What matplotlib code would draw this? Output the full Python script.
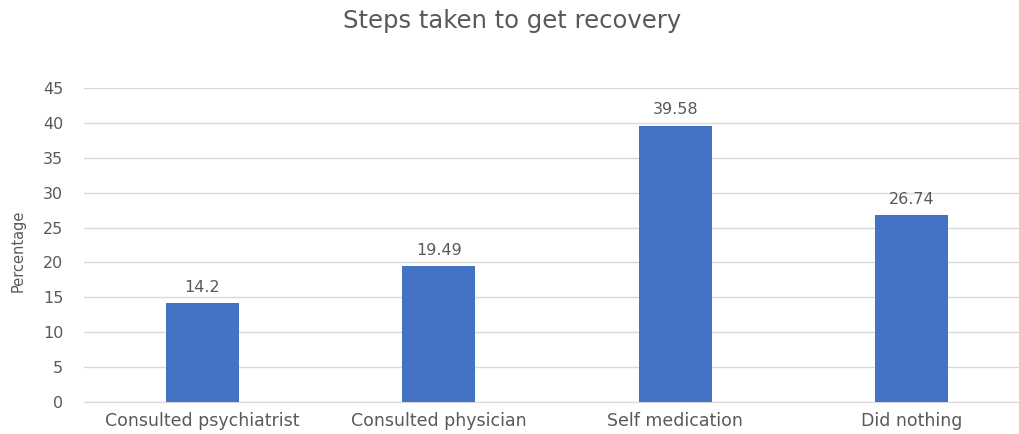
import matplotlib
matplotlib.use("Agg")
import matplotlib.pyplot as plt

# survey results: what respondents did to recover
steps = ["Consulted psychiatrist", "Consulted physician",
         "Self medication", "Did nothing"]
percent = [14.2, 19.49, 39.58, 26.74]
y_ticks = [0, 5, 10, 15, 20, 25, 30, 35, 40, 45]

text_grey = "#595959"
bar_blue = "#4472C4"

plt.rcParams["font.family"] = ["DejaVu Sans"]

fig = plt.figure(figsize=(10.2, 4.34), dpi=100)
ax = fig.add_axes([84 / 1020, 32 / 434, 946 / 1020, 314 / 434])

x = range(len(steps))
bars = ax.bar(x, percent, width=0.31, color=bar_blue, zorder=3)

# value labels above each bar
for rect, val in zip(bars, percent):
    ax.annotate(str(val), (rect.get_x() + rect.get_width() / 2, val),
                xytext=(0, 6), textcoords="offset points",
                ha="center", va="bottom", fontsize=11.5, color=text_grey)

ax.set_xlim(-0.5, len(steps) - 0.5)
ax.set_ylim(0, 45)
ax.set_yticks(y_ticks)
ax.set_xticks(list(x))
ax.set_xticklabels(steps)
ax.tick_params(axis="both", length=0, labelsize=11.5, colors=text_grey)
ax.tick_params(axis="x", labelsize=12.5, pad=7)
ax.tick_params(axis="y", pad=15)

ax.grid(axis="y", color="#D9D9D9", linewidth=1, zorder=0)
for side in ["top", "right", "left"]:
    ax.spines[side].set_visible(False)
ax.spines["bottom"].set_color("#D9D9D9")

fig.text(18 / 1020, 1 - 251 / 434, "Percentage", rotation=90,
         ha="center", va="center", fontsize=10.5, color=text_grey,
         family=["Liberation Sans Narrow", "DejaVu Sans"])

fig.text(0.502, 0.952, "Steps taken to get recovery", ha="center",
         va="center", fontsize=17.5, color=text_grey)

fig.savefig("out.png")
